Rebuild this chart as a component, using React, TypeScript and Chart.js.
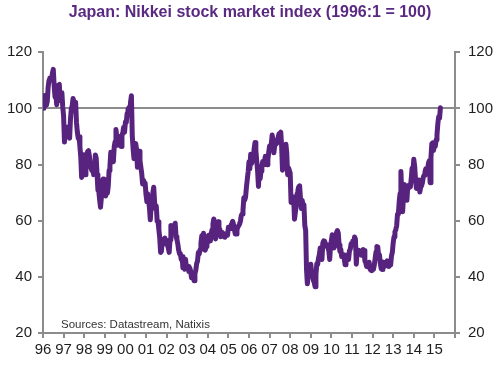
import React, { useEffect, useRef } from 'react';
import { Chart, registerables } from 'chart.js';

Chart.register(...registerables);

const chartTitle = 'Japan: Nikkei stock market index (1996:1 = 100)';
const sourceNote = 'Sources: Datastream, Natixis';
const fontFamily = '"Liberation Sans", Arial, Helvetica, sans-serif';

// Years shown; each year holds half-monthly readings (mid-month, month-end)
const years = [1996, 1997, 1998, 1999, 2000, 2001, 2002, 2003, 2004, 2005, 2006, 2007, 2008, 2009, 2010, 2011, 2012, 2013, 2014, 2015];
const baseValue = 100; // 1996:1

const y1996 = [101, 104.6, 103, 101.1, 102.5, 107.6, 110, 110.8, 110.6, 110.3, 112.6, 113.9, 108, 104.0, 105, 101.3, 107, 108.3, 108.5, 102.8, 104.5, 105.6, 100.5, 97.3];
const y1997 = [88, 92.1, 92, 93.3, 92.5, 90.5, 89.4, 96.2, 100, 100.8, 103.5, 103.5, 101.5, 102.2, 95, 91.6, 89.4, 89.9, 86.4, 82.7, 75.4, 83.6, 80.4, 76.7];
const y1998 = [76.4, 83.6, 83.4, 84.6, 84.9, 83.1, 79.4, 78.6, 77.9, 78.7, 76.4, 79.6, 83.4, 82.3, 76.4, 70.9, 70.4, 67.4, 64.8, 68.2, 73.9, 74.8, 70.4, 69.6];
const y1999 = [68.8, 72.9, 69.8, 72.2, 77.9, 79.6, 84.4, 83.9, 82.4, 81, 86.4, 88.1, 92.5, 89.8, 86.9, 87.6, 90, 88.5, 86.4, 90.2, 91.5, 93.3, 91.5, 95.1];
const y2000 = [95, 98.2, 99.5, 100.3, 98, 102.2, 104.5, 90.3, 85.4, 82.1, 84.4, 87.5, 85.4, 79, 81.9, 84.7, 81.4, 79.1, 76.9, 73.1, 74.4, 73.6, 73.4, 69.3];
const y2001 = [66.8, 69.6, 67.3, 64.7, 60.3, 65.3, 66.8, 70, 71.9, 66.6, 64.3, 65.2, 59.8, 59.6, 56.8, 53.8, 48.7, 49.1, 53.3, 52.1, 51.8, 53.8, 52.3, 53];
const y2002 = [51.3, 50.2, 48.7, 53.2, 58.3, 55.4, 56.8, 57.8, 58.3, 59.1, 54.3, 53.4, 51.8, 49.6, 48.2, 48.3, 46.2, 47.2, 43.2, 43.4, 42.7, 46.3, 43.7, 43.1];
const y2003 = [43.7, 41.9, 43.2, 42, 39.7, 40.1, 40.2, 38.6, 41.2, 42.3, 44.7, 45.6, 48.7, 48.1, 49.7, 52, 54.6, 51.4, 55.5, 53.1, 49.5, 50.8, 51.3, 53.7];
const y2004 = [54.8, 54.2, 52.8, 55.5, 56.8, 58.9, 60.6, 59.1, 53.5, 56.5, 57.8, 59.6, 57.3, 56.9, 54.3, 55.7, 55.8, 54.4, 55.3, 54.1, 55.3, 54.8, 54.8, 57.7];
const y2005 = [57.3, 57.2, 58.3, 59, 59.8, 58.6, 56.8, 55.3, 55.3, 56.7, 57.8, 58.2, 58.8, 59.8, 61.8, 62.4, 63.8, 68.2, 67.3, 68.4, 71.9, 74.7, 77.4, 81];
const y2006 = [78.5, 83.7, 80.4, 81.4, 81.9, 85.7, 87.8, 85, 81.4, 77.7, 72.2, 77.9, 74.9, 77.7, 79.4, 81.1, 79.9, 81, 82.9, 82.4, 79.9, 81.8, 84.4, 86.6];
const y2007 = [85.9, 87.4, 90.5, 88.5, 84.2, 86.9, 88.4, 87.4, 87.9, 89.8, 91, 91.1, 91.5, 86.7, 78, 83.3, 79.9, 84.4, 87.2, 84.1, 76.4, 78.8, 77.9, 76.9];
const y2008 = [66.5, 68.3, 68.3, 68.4, 60.5, 62.9, 65.3, 69.6, 70.9, 72.1, 72.4, 67.7, 64.3, 67.2, 65.3, 65.7, 58.3, 56.6, 42.7, 37.5, 41.2, 42.8, 43.2, 44.5];
const y2009 = [41.2, 40.2, 38.7, 38, 36.5, 40.8, 44.7, 44.4, 46.7, 47.9, 50.3, 50, 46.2, 52, 52.8, 52.7, 51.8, 50.9, 51.3, 50.4, 49.2, 46.2, 50.8, 53];
const y2010 = [55, 51.2, 50.3, 50.9, 54.3, 55.7, 56.5, 55.6, 51.3, 49.1, 49.7, 47.2, 47.2, 47.9, 46.2, 44.3, 47.7, 47.1, 47.7, 46.2, 49.2, 49.9, 51.8, 51.4];
const y2011 = [52.8, 51.4, 54.2, 53.4, 44.5, 49, 48.2, 49.5, 48.7, 48.7, 47.7, 49.3, 49.7, 49.4, 45.7, 45, 43.7, 43.7, 44.2, 45.2, 42.7, 42.4, 42.2, 42.5];
const y2012 = [42.7, 44.2, 46.7, 48.9, 50.8, 50.7, 47.7, 47.8, 44.7, 42.9, 42.6, 45.3, 43.7, 43.7, 45.2, 44.4, 45.7, 44.6, 43.7, 44.9, 44.2, 47.5, 48.7, 52.2];
const y2013 = [54.3, 56, 56.8, 58.1, 62.3, 62.3, 66.8, 69.7, 77.5, 69.2, 63.2, 68.7, 72.9, 68.7, 68.8, 67.3, 72.4, 72.6, 71.9, 72, 74.9, 78.7, 77.4, 81.9];
const y2014 = [79.4, 74.9, 71.5, 74.6, 72.4, 74.5, 70.2, 71.9, 72.4, 73.5, 75.4, 76.2, 77.4, 78.5, 76.9, 77.5, 80.4, 81.3, 73.5, 82.5, 87.4, 87.7, 85, 87.7];
const y2015 = [86.4, 88.8, 90.5, 94.5, 97, 96.5, 100.2];

const seriesByYear = [y1996, y1997, y1998, y1999, y2000, y2001, y2002, y2003, y2004, y2005, y2006, y2007, y2008, y2009, y2010, y2011, y2012, y2013, y2014, y2015];

const yMin = 20;
const yMax = 120;
const yStep = 20;
const xMin = 1996;
const xMax = 2016;

function buildPoints() {
  const pts: { x: number; y: number }[] = [{ x: years[0], y: baseValue }];
  seriesByYear.forEach((vals, i) => {
    vals.forEach((v, k) => {
      pts.push({ x: years[i] + (k + 1) / 24, y: v });
    });
  });
  return pts;
}

const axisGray = '#8c8c8c';
const tickFont = { family: fontFamily, size: 15 };
const tickColor = '#1e1e1e';

const sourcePlugin = {
  id: 'sourceNote',
  afterDraw(chart: any) {
    const { ctx, chartArea } = chart;
    ctx.save();
    ctx.font = '11.5px ' + fontFamily;
    ctx.fillStyle = '#333333';
    ctx.textBaseline = 'alphabetic';
    ctx.textAlign = 'left';
    ctx.fillText(sourceNote, chartArea.left + 18, chartArea.bottom - 5);
    ctx.restore();
  },
};

export default function App() {
  const canvasRef = useRef<HTMLCanvasElement | null>(null);

  useEffect(() => {
    if (!canvasRef.current) return;
    const chart = new Chart(canvasRef.current, {
      type: 'line',
      data: {
        datasets: [
          {
            data: buildPoints(),
            borderColor: '#58237f',
            borderWidth: 5,
            pointRadius: 0,
            tension: 0,
            borderJoinStyle: 'round',
            borderCapStyle: 'round',
            fill: false,
          },
        ],
      },
      options: {
        animation: false,
        responsive: false,
        maintainAspectRatio: false,
        events: [],
        layout: { padding: { left: 0, right: 0, top: 0, bottom: 0 } },
        plugins: {
          legend: { display: false },
          tooltip: { enabled: false },
          title: {
            display: true,
            text: chartTitle,
            color: '#5a2a82',
            font: { family: fontFamily, size: 16, weight: 'bold' },
            padding: { top: 3, bottom: 30 },
          },
        },
        scales: {
          x: {
            type: 'linear',
            min: xMin,
            max: xMax,
            border: { color: axisGray, width: 2 },
            grid: { drawOnChartArea: false, drawTicks: true, tickLength: 5, tickColor: axisGray, lineWidth: 2 },
            ticks: {
              stepSize: 1,
              autoSkip: false,
              maxRotation: 0,
              minRotation: 0,
              padding: 3,
              color: tickColor,
              font: tickFont,
              callback: (v: any) => (Number(v) < xMax ? String(Math.round(Number(v))).slice(2) : ''),
            },
            afterFit: (s: any) => {
              s.height = 34;
            },
          },
          y: {
            position: 'left',
            min: yMin,
            max: yMax,
            border: { color: axisGray, width: 2 },
            grid: {
              drawOnChartArea: true,
              drawTicks: true,
              tickLength: 5,
              tickColor: axisGray,
              lineWidth: 2,
              color: (ctx: any) => (ctx.tick && ctx.tick.value === 100 ? axisGray : 'rgba(0,0,0,0)'),
            },
            ticks: { stepSize: yStep, padding: 6, color: tickColor, font: tickFont },
            afterFit: (s: any) => {
              s.width = 43;
            },
          },
          y2: {
            position: 'right',
            min: yMin,
            max: yMax,
            border: { color: axisGray, width: 2 },
            grid: { drawOnChartArea: false, drawTicks: true, tickLength: 5, tickColor: axisGray, lineWidth: 2 },
            ticks: { stepSize: yStep, padding: 8, color: tickColor, font: tickFont },
            afterFit: (s: any) => {
              s.width = 45;
            },
          },
        },
      } as any,
      plugins: [sourcePlugin],
    });
    return () => chart.destroy();
  }, []);

  return (
    <div style={{ position: 'absolute', left: 0, top: 0, width: 500, height: 367, background: '#ffffff' }}>
      <canvas ref={canvasRef} width={500} height={367} style={{ width: 500, height: 367 }} />
    </div>
  );
}
